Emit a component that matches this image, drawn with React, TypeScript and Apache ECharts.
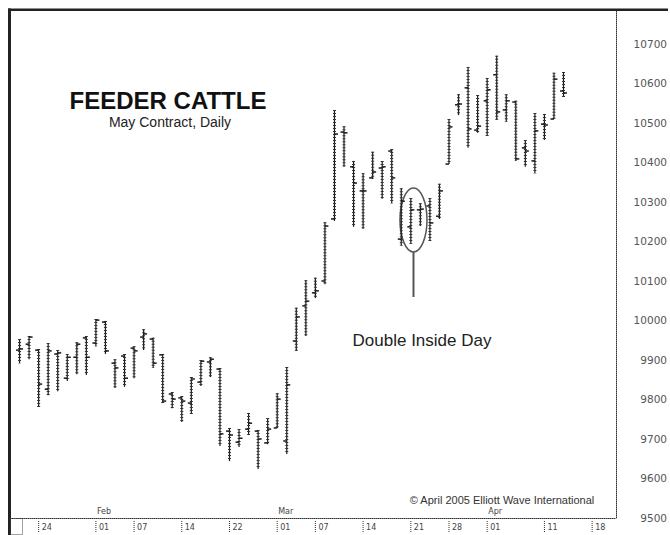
import React, { useEffect, useRef } from 'react';
import * as echarts from 'echarts';

// Trading days shown on the time axis (Jan 19 .. Apr 20, 2005)
const tradingDays = [
  'Jan 19', 'Jan 20', 'Jan 21', 'Jan 24', 'Jan 25', 'Jan 26', 'Jan 27', 'Jan 28', 'Jan 31',
  'Feb 01', 'Feb 02', 'Feb 03', 'Feb 04', 'Feb 07', 'Feb 08', 'Feb 09', 'Feb 10', 'Feb 11',
  'Feb 14', 'Feb 15', 'Feb 16', 'Feb 17', 'Feb 18', 'Feb 22', 'Feb 23', 'Feb 24', 'Feb 25', 'Feb 28',
  'Mar 01', 'Mar 02', 'Mar 03', 'Mar 04', 'Mar 07', 'Mar 08', 'Mar 09', 'Mar 10', 'Mar 11',
  'Mar 14', 'Mar 15', 'Mar 16', 'Mar 17', 'Mar 18', 'Mar 21', 'Mar 22', 'Mar 23', 'Mar 24',
  'Mar 28', 'Mar 29', 'Mar 30', 'Mar 31', 'Apr 01', 'Apr 04', 'Apr 05', 'Apr 06', 'Apr 07', 'Apr 08',
  'Apr 11', 'Apr 12', 'Apr 13', 'Apr 14', 'Apr 15', 'Apr 18', 'Apr 19', 'Apr 20',
];

// Daily bars start on this day and run consecutively through the trading days
const firstBarDay = 'Jan 20';

const openPrices = [
  9925, 9940, 9925, 9826, 9915, 9854, 9907, 9956, 9943, 9996,
  9892, 9910, 9930, 9958, 9953, 9913, 9814, 9804, 9791, 9844,
  9895, 9877, 9720, 9692, 9725, 9720, 9690, 9728, 9695, 9948,
  10037, 10070, 10100, 10257, 10477, 10389, 10328, 10361, 10386, 10429,
  10206, 10237, 10280, 10290, 10264, 10396, 10546, 10589, 10482, 10556,
  10622, 10533, 10553, 10437, 10404, 10497, 10510, 10581,
];
const highPrices = [
  9953, 9961, 9928, 9943, 9925, 9915, 9945, 9961, 10004, 9999,
  9902, 9915, 9935, 9978, 9956, 9915, 9819, 9809, 9857, 9900,
  9907, 9880, 9728, 9725, 9766, 9723, 9753, 9816, 9882, 10032,
  10102, 10108, 10249, 10533, 10492, 10404, 10373, 10427, 10404, 10434,
  10335, 10310, 10297, 10310, 10346, 10510, 10573, 10642, 10571, 10614,
  10670, 10573, 10556, 10457, 10525, 10523, 10627, 10629,
];
const lowPrices = [
  9892, 9902, 9781, 9811, 9821, 9847, 9864, 9862, 9935, 9915,
  9829, 9832, 9854, 9925, 9880, 9791, 9778, 9743, 9763, 9834,
  9857, 9682, 9644, 9680, 9710, 9624, 9687, 9728, 9662, 9923,
  9961, 10057, 10092, 10252, 10389, 10237, 10232, 10358, 10308, 10297,
  10189, 10194, 10239, 10201, 10257, 10396, 10520, 10437, 10475, 10467,
  10508, 10503, 10404, 10389, 10373, 10457, 10510, 10566,
];
const closePrices = [
  9928, 9958, 9839, 9923, 9918, 9907, 9940, 9907, 10001, 9923,
  9880, 9854, 9923, 9966, 9892, 9796, 9801, 9796, 9852, 9897,
  9902, 9713, 9710, 9702, 9740, 9700, 9725, 9801, 9837, 10009,
  10049, 10075, 10239, 10472, 10475, 10348, 10328, 10376, 10389, 10361,
  10302, 10280, 10282, 10247, 10328, 10490, 10548, 10485, 10492, 10584,
  10528, 10556, 10409, 10429, 10480, 10495, 10611, 10576,
];

// Labelled days on the time axis
const tickDays = ['Jan 24', 'Feb 01', 'Feb 07', 'Feb 14', 'Feb 22', 'Mar 01', 'Mar 07', 'Mar 14', 'Mar 21', 'Mar 28', 'Apr 01', 'Apr 11', 'Apr 18'];
const tickLabels = ['24', '01', '07', '14', '22', '01', '07', '14', '21', '28', '01', '11', '18'];
const monthDays = ['Feb 01', 'Mar 01', 'Apr 01'];
const monthLabels = ['Feb', 'Mar', 'Apr'];

// Price axis
const priceMin = 9500;
const priceMax = 10786;
const priceStep = 100;

export default function App() {
  const ref = useRef<HTMLDivElement>(null);

  useEffect(() => {
    if (!ref.current) return;
    const chart = echarts.init(ref.current, undefined, { renderer: 'svg' });
    const start = tradingDays.indexOf(firstBarDay);
    const barData = openPrices.map((o, i) => [start + i, o, highPrices[i], lowPrices[i], closePrices[i]]);
    const tickData = tickDays.map((d) => [tradingDays.indexOf(d), priceMin]);
    const ink = '#1a1a1a';
    const sans = '"Liberation Sans", Arial, sans-serif';

    chart.setOption({
      animation: false,
      backgroundColor: '#ffffff',
      grid: { left: 10, right: 54, top: 10, bottom: 17, containLabel: false },
      xAxis: {
        type: 'value',
        min: 0,
        max: 63.5,
        interval: 1,
        axisLine: { show: true, onZero: false, lineStyle: { color: '#333', type: 'dotted', width: 1 } },
        axisTick: { show: false },
        splitLine: { show: false },
        axisLabel: {
          showMaxLabel: false,
          align: 'left',
          margin: 5,
          padding: [0, 0, 0, 3],
          fontSize: 8,
          fontFamily: '"DejaVu Sans", sans-serif',
          color: '#444',
          formatter: (v: number) => {
            const d = tradingDays[v];
            const k = tickDays.indexOf(d);
            return k >= 0 ? tickLabels[k] : '';
          },
        },
      },
      yAxis: {
        type: 'value',
        position: 'right',
        min: priceMin,
        max: priceMax,
        interval: priceStep,
        axisLine: { show: true, onZero: false, lineStyle: { color: '#333', type: 'dotted', width: 1 } },
        axisTick: { show: false },
        splitLine: { show: false },
        axisLabel: {
          showMaxLabel: false,
          align: 'right',
          margin: 51,
          fontSize: 10.5,
          fontFamily: '"DejaVu Sans", sans-serif',
          color: '#555',
          formatter: (v: number) => String(v),
        },
      },
      series: [
        {
          type: 'custom',
          name: 'Feeder Cattle',
          clip: false,
          data: barData,
          encode: { x: 0, y: [1, 2, 3, 4] },
          renderItem: (params: any, api: any) => {
            const x = api.value(0);
            const pO = api.coord([x, api.value(1)]);
            const pH = api.coord([x, api.value(2)]);
            const pL = api.coord([x, api.value(3)]);
            const pC = api.coord([x, api.value(4)]);
            return {
              type: 'group',
              children: [
                { type: 'line', shape: { x1: pH[0], y1: pH[1], x2: pL[0], y2: pL[1] }, style: { stroke: ink, lineWidth: 1.2 } },
                { type: 'line', shape: { x1: pH[0], y1: pH[1], x2: pL[0], y2: pL[1] }, style: { stroke: '#333', lineWidth: 3, lineDash: [1, 2] } },
                { type: 'line', shape: { x1: pO[0] - 3.5, y1: pO[1], x2: pO[0], y2: pO[1] }, style: { stroke: ink, lineWidth: 1.5 } },
                { type: 'line', shape: { x1: pC[0], y1: pC[1], x2: pC[0] + 3.5, y2: pC[1] }, style: { stroke: ink, lineWidth: 1.5 } },
              ],
            };
          },
        },
        {
          type: 'custom',
          name: 'ticks',
          clip: false,
          silent: true,
          data: tickData,
          encode: { x: 0, y: 1 },
          renderItem: (params: any, api: any) => {
            const p = api.coord([api.value(0), api.value(1)]);
            const day = tickDays[params.dataIndex];
            const m = monthDays.indexOf(day);
            const children: any[] = [
              { type: 'line', shape: { x1: p[0], y1: p[1] + 3, x2: p[0], y2: p[1] + 15 }, style: { stroke: '#333', lineWidth: 1, lineDash: [1, 1] } },
            ];
            if (m >= 0) {
              children.push({
                type: 'text',
                style: { text: monthLabels[m], x: p[0] + 1, y: p[1] - 7, textAlign: 'left', textVerticalAlign: 'middle', fill: '#444', font: '8px "DejaVu Sans", sans-serif' },
              });
            }
            return { type: 'group', children };
          },
        },
      ],
      graphic: [
        { type: 'rect', shape: { x: 8, y: 8.5, width: 660, height: 2.5 }, style: { fill: '#222' } },
        { type: 'rect', shape: { x: 8, y: 8.5, width: 3, height: 527 }, style: { fill: '#222' } },
        { type: 'rect', shape: { x: 10.5, y: 518.5, width: 12, height: 16 }, style: { fill: 'none', stroke: '#444', lineWidth: 1, lineDash: [1, 1] } },
        { type: 'text', style: { text: 'FEEDER CATTLE', x: 168, y: 100, textAlign: 'center', textVerticalAlign: 'middle', fill: '#111', font: 'bold 24px ' + sans } },
        { type: 'text', style: { text: 'May Contract, Daily', x: 170, y: 122, textAlign: 'center', textVerticalAlign: 'middle', fill: '#222', font: '14px ' + sans } },
        { type: 'ellipse', shape: { cx: 413.5, cy: 220, rx: 13.5, ry: 32 }, style: { fill: 'none', stroke: '#555', lineWidth: 1.5 } },
        { type: 'line', shape: { x1: 413.5, y1: 252, x2: 413.5, y2: 297 }, style: { stroke: '#555', lineWidth: 2 } },
        { type: 'text', style: { text: 'Double Inside Day', x: 422, y: 340, textAlign: 'center', textVerticalAlign: 'middle', fill: '#222', font: '17px ' + sans } },
        { type: 'text', style: { text: '© April 2005 Elliott Wave International', x: 502, y: 500, textAlign: 'center', textVerticalAlign: 'middle', fill: '#333', font: '11px ' + sans } },
      ],
    });

    return () => chart.dispose();
  }, []);

  return <div ref={ref} style={{ position: 'fixed', left: 0, top: 0, width: 670, height: 535 }} />;
}
